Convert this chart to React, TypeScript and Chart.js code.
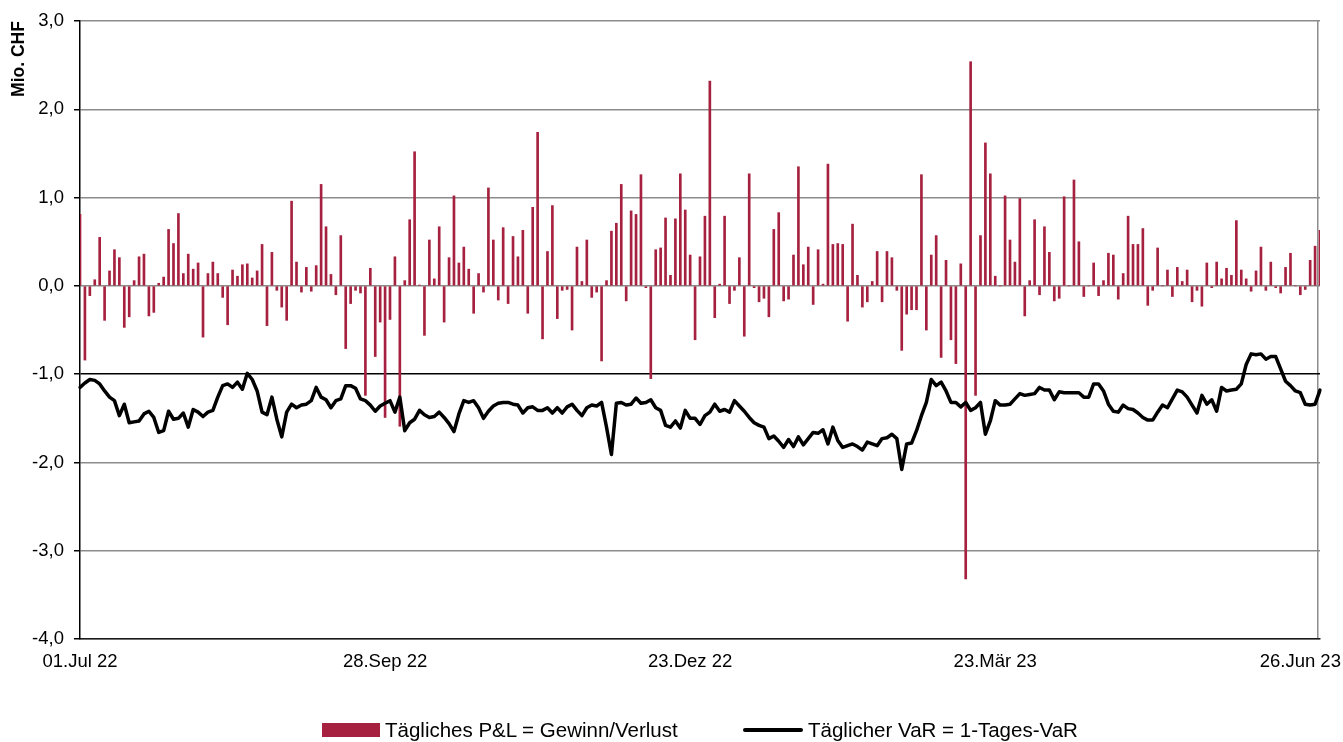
import React, { useEffect, useRef } from 'react';
import { Chart, registerables } from 'chart.js';

Chart.register(...registerables);

// Daily P&L (Mio. CHF), one value per trading day
const pnl: number[] = [
  0.81, -0.84, -0.11, 0.07, 0.55, -0.39, 0.17, 0.41, 0.32, -0.47,
  -0.35, 0.06, 0.33, 0.36, -0.34, -0.30, 0.03, 0.10, 0.64, 0.48,
  0.82, 0.14, 0.36, 0.19, 0.26, -0.58, 0.14, 0.27, 0.14, -0.13,
  -0.44, 0.18, 0.11, 0.24, 0.25, 0.09, 0.17, 0.47, -0.45, 0.38,
  -0.05, -0.24, -0.39, 0.96, 0.27, -0.07, 0.21, -0.06, 0.23, 1.15,
  0.67, 0.13, -0.10, 0.57, -0.71, -0.20, -0.05, -0.08, -1.24, 0.20,
  -0.80, -0.41, -1.49, -0.38, 0.33, -1.59, 0.06, 0.75, 1.52, 0.01,
  -0.56, 0.52, 0.08, 0.67, -0.41, 0.32, 1.02, 0.26, 0.44, 0.19,
  -0.31, 0.14, -0.07, 1.11, 0.52, -0.16, 0.66, -0.20, 0.56, 0.33,
  0.63, -0.31, 0.89, 1.74, -0.60, 0.39, 0.91, -0.37, -0.05, -0.04,
  -0.50, 0.44, 0.05, 0.52, -0.13, -0.07, -0.85, 0.06, 0.62, 0.71,
  1.15, -0.17, 0.85, 0.81, 1.26, -0.02, -1.05, 0.41, 0.43, 0.77,
  0.12, 0.76, 1.27, 0.86, 0.35, -0.61, 0.33, 0.79, 2.32, -0.36,
  0.02, 0.79, -0.20, -0.05, 0.32, -0.57, 1.27, -0.02, -0.18, -0.14,
  -0.35, 0.64, 0.83, -0.17, -0.15, 0.35, 1.35, 0.24, 0.44, -0.21,
  0.41, 0.02, 1.38, 0.47, 0.48, 0.47, -0.40, 0.70, 0.12, -0.24,
  -0.18, 0.05, 0.39, -0.18, 0.39, 0.32, -0.05, -0.73, -0.32, -0.27,
  -0.27, 1.26, -0.50, 0.35, 0.57, -0.81, 0.29, -0.61, -0.88, 0.25,
  -3.32, 2.54, -1.24, 0.57, 1.62, 1.27, 0.11, 0.00, 1.02, 0.52,
  0.27, 0.99, -0.34, 0.06, 0.75, -0.10, 0.67, 0.38, -0.17, -0.14,
  1.01, 0.00, 1.20, 0.50, -0.12, 0.00, 0.26, -0.11, 0.06, 0.37,
  0.35, -0.15, 0.14, 0.79, 0.47, 0.47, 0.65, -0.22, -0.05, 0.43,
  0.00, 0.18, -0.12, 0.21, 0.05, 0.18, -0.18, -0.05, -0.23, 0.26,
  -0.02, 0.27, 0.08, 0.20, 0.12, 0.74, 0.18, 0.08, -0.06, 0.17,
  0.44, -0.05, 0.27, -0.02, -0.08, 0.21, 0.37, 0.00, -0.10, -0.04,
  0.29, 0.45, 0.63,
];

// Daily 1-day VaR (Mio. CHF)
const var1d: number[] = [
  -1.15, -1.10, -1.06, -1.07, -1.11, -1.19, -1.26, -1.30, -1.47, -1.34,
  -1.55, -1.54, -1.53, -1.45, -1.42, -1.49, -1.66, -1.64, -1.42, -1.51,
  -1.50, -1.44, -1.60, -1.40, -1.43, -1.48, -1.43, -1.41, -1.26, -1.13,
  -1.11, -1.15, -1.09, -1.17, -0.99, -1.06, -1.19, -1.43, -1.46, -1.26,
  -1.51, -1.71, -1.43, -1.34, -1.38, -1.35, -1.34, -1.30, -1.15, -1.26,
  -1.29, -1.38, -1.30, -1.28, -1.13, -1.13, -1.16, -1.28, -1.30, -1.35,
  -1.42, -1.36, -1.33, -1.30, -1.43, -1.26, -1.64, -1.55, -1.51, -1.41,
  -1.46, -1.49, -1.48, -1.43, -1.49, -1.56, -1.65, -1.45, -1.30, -1.32,
  -1.30, -1.38, -1.50, -1.42, -1.36, -1.33, -1.32, -1.32, -1.34, -1.35,
  -1.44, -1.38, -1.37, -1.41, -1.41, -1.38, -1.44, -1.38, -1.44, -1.37,
  -1.34, -1.41, -1.47, -1.38, -1.35, -1.36, -1.32, -1.60, -1.91, -1.33,
  -1.32, -1.35, -1.34, -1.27, -1.33, -1.32, -1.29, -1.38, -1.41, -1.58,
  -1.60, -1.53, -1.61, -1.41, -1.50, -1.50, -1.57, -1.47, -1.43, -1.34,
  -1.42, -1.40, -1.43, -1.30, -1.36, -1.42, -1.49, -1.55, -1.58, -1.60,
  -1.73, -1.70, -1.76, -1.83, -1.74, -1.82, -1.71, -1.80, -1.73, -1.66,
  -1.67, -1.63, -1.79, -1.60, -1.75, -1.83, -1.81, -1.79, -1.82, -1.86,
  -1.77, -1.79, -1.81, -1.73, -1.72, -1.68, -1.73, -2.08, -1.79, -1.78,
  -1.64, -1.47, -1.32, -1.06, -1.13, -1.09, -1.19, -1.32, -1.32, -1.37,
  -1.32, -1.41, -1.38, -1.32, -1.68, -1.53, -1.30, -1.35, -1.35, -1.34,
  -1.28, -1.22, -1.24, -1.23, -1.22, -1.15, -1.18, -1.18, -1.29, -1.20,
  -1.21, -1.21, -1.21, -1.21, -1.26, -1.26, -1.11, -1.11, -1.19, -1.34,
  -1.42, -1.43, -1.35, -1.39, -1.40, -1.44, -1.49, -1.52, -1.52, -1.43,
  -1.35, -1.38, -1.28, -1.18, -1.20, -1.26, -1.35, -1.44, -1.24, -1.34,
  -1.29, -1.42, -1.15, -1.19, -1.18, -1.17, -1.11, -0.89, -0.77, -0.78,
  -0.77, -0.83, -0.80, -0.80, -0.94, -1.08, -1.13, -1.19, -1.21, -1.34,
  -1.35, -1.34, -1.18,
];

// x-axis tick labels, shown every `tickEvery` trading days
const tickLabels: string[] = ['01.Jul 22', '28.Sep 22', '23.Dez 22', '23.Mär 23', '26.Jun 23'];
const tickEvery = 62;

const seriesNames = ['Tägliches P&L = Gewinn/Verlust', 'Täglicher VaR = 1-Tages-VaR'];

const FONT = '"Liberation Sans", Arial, Helvetica, sans-serif';
const BAR_COLOR = '#A6213F';

export default function App() {
  const ref = useRef<HTMLCanvasElement | null>(null);

  useEffect(() => {
    document.body.style.margin = '0';
    const N = pnl.length;
    const labels = pnl.map((_, i) =>
      i % tickEvery === 0 ? tickLabels[i / tickEvery] ?? '' : ''
    );
    const chart = new Chart(ref.current as HTMLCanvasElement, {
      type: 'bar',
      data: {
        labels,
        datasets: [
          {
            type: 'line',
            label: seriesNames[1],
            data: var1d,
            borderColor: '#000000',
            backgroundColor: '#000000',
            borderWidth: 3.5,
            pointRadius: 0,
            tension: 0,
            borderJoinStyle: 'round',
            borderCapStyle: 'round',
            order: 0,
          } as any,
          {
            type: 'bar',
            label: seriesNames[0],
            data: pnl,
            backgroundColor: BAR_COLOR,
            barThickness: 2,
            order: 1,
          } as any,
        ],
      },
      options: {
        animation: false,
        responsive: false,
        maintainAspectRatio: false,
        layout: { padding: { top: 18, right: 23, bottom: 63, left: 0 } },
        plugins: {
          legend: { display: false },
          tooltip: { enabled: false },
        },
        scales: {
          x: {
            offset: false,
            grid: {
              color: (c: any) => (c.index === N - 1 ? '#8c8c8c' : 'rgba(0,0,0,0)'),
              lineWidth: 1.5,
              drawTicks: false,
            },
            border: { color: '#1a1a1a', width: 1.5 },
            ticks: {
              autoSkip: false,
              maxRotation: 0,
              minRotation: 0,
              padding: 12,
              color: '#000',
              font: { family: FONT, size: 18.5 },
            },
            afterFit: (s: any) => {
              s.height = 40;
            },
          },
          y: {
            min: -4,
            max: 3,
            ticks: {
              stepSize: 1,
              padding: 10,
              color: '#000',
              font: { family: FONT, size: 18.5 },
              callback: (v: any) => Number(v).toFixed(1).replace('.', ','),
            },
            grid: {
              color: (c: any) => (c.tick && c.tick.value === -1 ? '#000000' : '#8c8c8c'),
              lineWidth: 1.5,
              tickLength: 6,
              tickColor: '#000',
            },
            border: { color: '#000', width: 1.5 },
            title: {
              display: true,
              text: 'Mio. CHF',
              align: 'end',
              color: '#000',
              font: { family: FONT, size: 17.5, weight: 'bold' },
              padding: { top: 9, bottom: 0 },
            },
            afterFit: (s: any) => {
              s.width = 80;
            },
          },
        },
      } as any,
    });
    return () => chart.destroy();
  }, []);

  const textStyle: React.CSSProperties = {
    fontFamily: FONT,
    fontSize: 20.5,
    color: '#000',
    marginLeft: 5,
    whiteSpace: 'nowrap',
  };

  return (
    <div style={{ position: 'relative', width: 1343, height: 742, background: '#fff' }}>
      <canvas ref={ref} width={1343} height={742} style={{ display: 'block' }} />
      <div style={{ position: 'absolute', left: 322, top: 718, display: 'flex', alignItems: 'center', height: 24 }}>
        <span style={{ display: 'inline-block', width: 58, height: 14, background: BAR_COLOR }} />
        <span style={textStyle}>{seriesNames[0]}</span>
      </div>
      <div style={{ position: 'absolute', left: 743, top: 718, display: 'flex', alignItems: 'center', height: 24 }}>
        <span style={{ display: 'inline-block', width: 60, height: 4, background: '#000', borderRadius: 2 }} />
        <span style={textStyle}>{seriesNames[1]}</span>
      </div>
    </div>
  );
}
